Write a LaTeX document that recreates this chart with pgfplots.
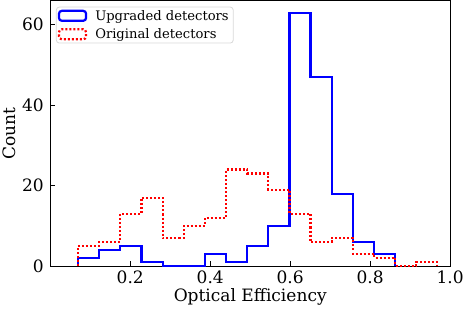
\documentclass[border=0pt]{standalone}
\usepackage{fontspec}
\setmainfont{DejaVu Serif}
\usepackage{pgfplots}
\pgfplotsset{compat=1.18}
\pgfplotsset{rectlegend/.style={legend image code/.code={\draw[##1, line width=2.2bp] (0bp,-5bp) rectangle (27bp,5bp);}}}
\begin{document}
\begin{tikzpicture}
\begin{axis}[
  scale only axis, width=397.5bp, height=264bp,
  xmin=0, xmax=1.0, ymin=0, ymax=66,
  xtick={0.2,0.4,0.6,0.8,1.0}, ytick={0,20,40,60},
  tick align=inside, xtick pos=left, ytick pos=left,
  major tick length=5bp,
  tick style={black, line width=0.8bp},
  /pgf/number format/assume math mode=true,
  tick label style={font=\fontsize{17}{19}\selectfont},
  yticklabel style={xshift=-3bp},
  xticklabel style={/pgf/number format/fixed, /pgf/number format/fixed zerofill, /pgf/number format/precision=1, yshift=-1bp},
  label style={font=\fontsize{17}{19}\selectfont},
  xlabel={Optical Efficiency}, ylabel={Count},
  xlabel style={yshift=2bp},
  ylabel style={yshift=-1bp},
  axis line style={line width=1.1bp},
  legend style={at={(0.014,0.977)}, anchor=north west, font=\fontsize{13.1}{15}\selectfont,
    draw=black!15, line width=0.8bp, rounded corners=3bp, inner sep=1.5bp, row sep=4bp,
    nodes={inner xsep=3bp, inner ysep=1.5bp},
    /tikz/every odd column/.append style={column sep=5bp}},
  legend cell align=left,
]
\addplot[const plot mark left, blue, line width=2.2bp, rectlegend] coordinates {
(0.069,0) (0.069,2) (0.122,4) (0.175,5) (0.228,1) (0.281,0) (0.334,0) (0.386,3)
(0.439,1) (0.492,5) (0.545,10) (0.598,63) (0.651,47) (0.704,18) (0.757,6) (0.810,3) (0.863,0)
};
\addlegendentry{Upgraded detectors}
\addplot[const plot mark left, red, line width=2.2bp, dash pattern=on 2bp off 2bp, rectlegend] coordinates {
(0.069,0) (0.069,5) (0.122,6) (0.175,13) (0.228,17) (0.281,7) (0.334,10) (0.386,12)
(0.439,24) (0.492,23) (0.545,19) (0.598,13) (0.651,6) (0.704,7) (0.757,3) (0.810,2) (0.863,0) (0.915,1) (0.968,0)
};
\addlegendentry{Original detectors}
\end{axis}
\end{tikzpicture}
\end{document}
